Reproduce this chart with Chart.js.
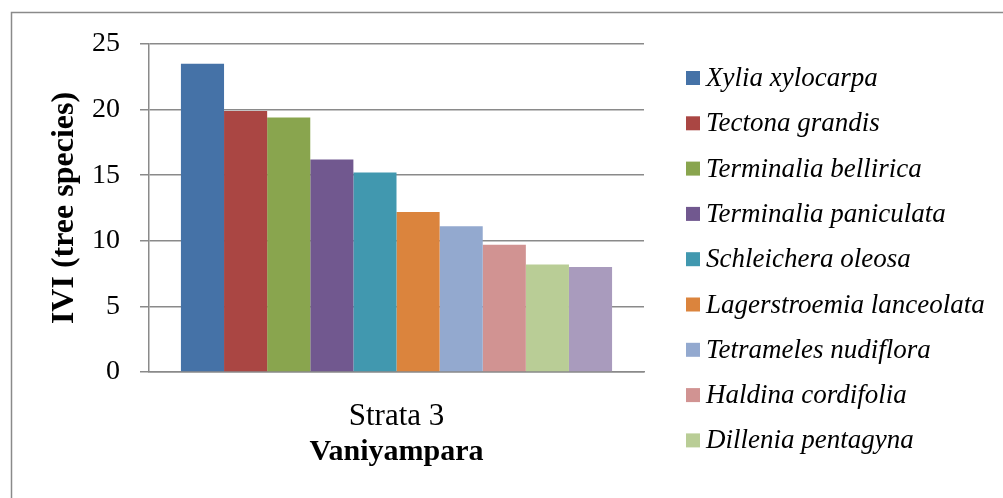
<!DOCTYPE html>
<html>
<head>
<meta charset="utf-8">
<script src="https://cdn.jsdelivr.net/npm/chart.js@4/dist/chart.umd.min.js"></script>
<style>
  html, body { margin: 0; padding: 0; background: #fff; }
  #wrap { width: 1003px; height: 498px; }
</style>
</head>
<body>
<div id="wrap"><canvas id="ivi" width="1003" height="498"></canvas></div>
<script>
const categories = ['Strata 3'];
const species = [
    'Xylia xylocarpa',
    'Tectona grandis',
    'Terminalia bellirica',
    'Terminalia paniculata',
    'Schleichera oleosa',
    'Lagerstroemia lanceolata',
    'Tetrameles nudiflora',
    'Haldina cordifolia',
    'Dillenia pentagyna',
    'Species 10'
];
const iviValues = [23.5, 19.9, 19.4, 16.2, 15.2, 12.2, 11.1, 9.7, 8.2, 8.0];
const colours = ['#4572A7', '#AA4643', '#89A54E', '#71588F', '#4198AF',
                 '#DB843D', '#93A9CF', '#D19392', '#B9CD96', '#A99BBD'];
const yTicks = [0, 5, 10, 15, 20, 25];
const shownInLegend = 9;   // the last entry is cut off in the original

const serif = '"Liberation Serif", "Times New Roman", serif';
const grey = '#8a8a8a';

// frame around the whole chart (right and bottom edges are outside the picture)
const frame = {
    id: 'frame',
    beforeDraw(chart) {
        const c = chart.ctx;
        c.save();
        c.strokeStyle = grey;
        c.lineWidth = 1.5;
        c.strokeRect(11.5, 12.5, 1100, 600);
        c.restore();
    }
};

// legend drawn in the right margin, one row per dataset, like the Excel one
const sideLegend = {
    id: 'sideLegend',
    afterDraw(chart) {
        const c = chart.ctx;
        const x = chart.chartArea.right + 42;
        c.save();
        c.font = 'italic 27px ' + serif;
        c.textBaseline = 'middle';
        c.textAlign = 'left';
        chart.data.datasets.slice(0, shownInLegend).forEach((ds, i) => {
            const y = 78 + i * 45.3;
            c.fillStyle = ds.backgroundColor;
            c.fillRect(x, y - 7, 14, 14);
            c.fillStyle = '#000';
            c.fillText(ds.label, x + 20, y + 1);
        });
        c.restore();
    }
};

new Chart(document.getElementById('ivi'), {
    type: 'bar',
    data: {
        labels: categories,
        datasets: species.map((name, i) => ({
            label: name,
            data: [iviValues[i]],
            backgroundColor: colours[i],
            borderWidth: 0
        }))
    },
    options: {
        responsive: false,
        animation: false,
        categoryPercentage: 0.871,
        barPercentage: 1,
        layout: { padding: { top: 44, left: 20, right: 359, bottom: 26 } },
        plugins: {
            tooltip: { enabled: false },
            legend: { display: false }
        },
        scales: {
            x: {
                grid: { display: false },
                border: { display: true, color: grey, width: 1.5 },
                ticks: { color: '#000', padding: 18, font: { family: serif, size: 31 } },
                title: {
                    display: true,
                    text: 'Vaniyampara',
                    color: '#000',
                    font: { family: serif, size: 30, weight: 'bold' },
                    padding: { top: 8, bottom: 2 }
                },
                afterFit: (s) => { s.height = 100; }
            },
            y: {
                min: 0,
                max: 25,
                afterBuildTicks: (s) => { s.ticks = yTicks.map(v => ({ value: v })); },
                grid: { color: grey, lineWidth: 1.5, tickLength: 9 },
                border: { display: true, color: grey, width: 1.5 },
                ticks: { color: '#000', padding: 20, font: { family: serif, size: 28 } },
                title: {
                    display: true,
                    text: 'IVI (tree species)',
                    color: '#000',
                    font: { family: serif, size: 32, weight: 'bold' },
                    padding: { top: 26, bottom: 9 }
                },
                afterFit: (s) => { s.width = 129; }
            }
        }
    },
    plugins: [frame, sideLegend]
});
</script>
</body>
</html>
